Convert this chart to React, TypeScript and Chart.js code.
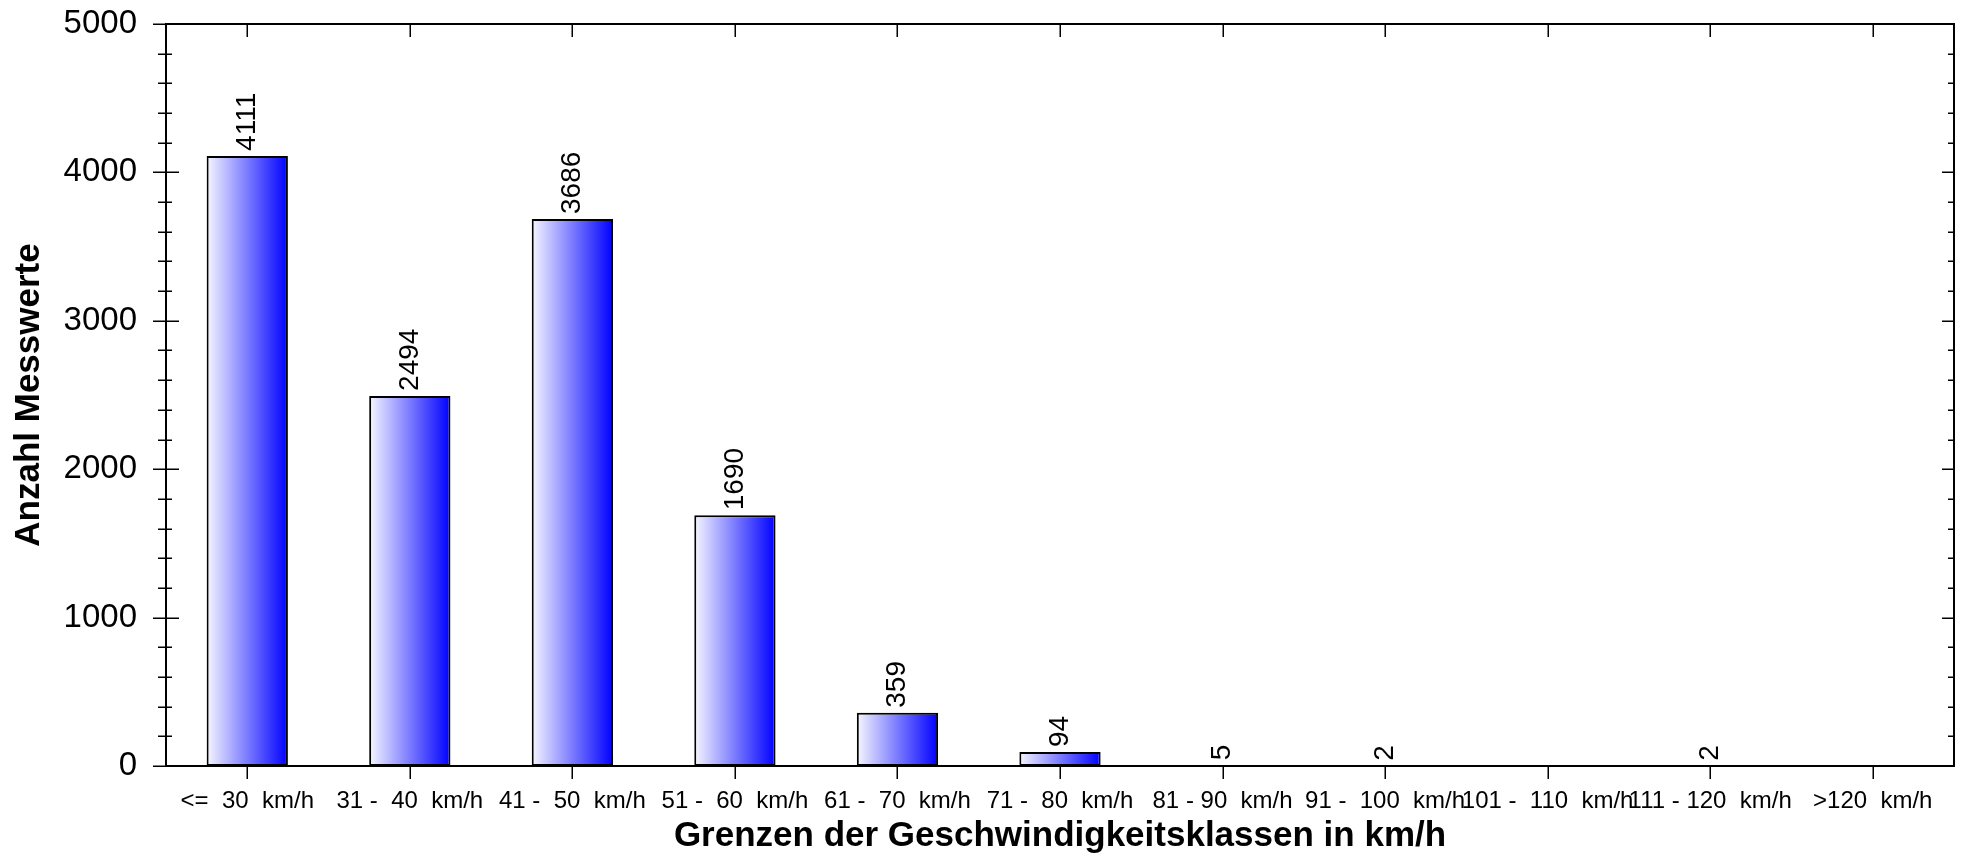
import React, { useEffect, useRef } from 'react';
import { Chart, registerables } from 'chart.js';

Chart.register(...registerables);

const categories = [
  '<=  30  km/h',
  '31 -  40  km/h',
  '41 -  50  km/h',
  '51 -  60  km/h',
  '61 -  70  km/h',
  '71 -  80  km/h',
  '81 - 90  km/h',
  '91 -  100  km/h',
  '101 -  110  km/h',
  '111 - 120  km/h',
  '>120  km/h',
];
const counts = [4111, 2494, 3686, 1690, 359, 94, 5, 2, 0, 2, 0];

const yMin = 0;
const yMax = 5000;
const yMajorStep = 1000;
const yMinorStep = 200;

const xTitle = 'Grenzen der Geschwindigkeitsklassen in km/h';
const yTitle = 'Anzahl Messwerte';

const FONT = '"Liberation Sans", Arial, sans-serif';

const framePlugin = {
  id: 'frame',
  afterDatasetsDraw(chart: any) {
    const { ctx, chartArea: a, scales } = chart;
    const x = scales.x;
    const y = scales.y;
    ctx.save();
    ctx.strokeStyle = '#000';
    ctx.lineCap = 'butt';
    ctx.lineWidth = 2;
    ctx.strokeRect(a.left, a.top, a.right - a.left, a.bottom - a.top);
    ctx.lineWidth = 1.5;
    ctx.beginPath();
    for (let v = yMin; v <= yMax; v += yMinorStep) {
      const py = Math.round(y.getPixelForValue(v)) + 0.25;
      const major = v % yMajorStep === 0;
      ctx.moveTo(a.left - (major ? 13 : 8), py);
      ctx.lineTo(a.left + (major ? 13 : 6), py);
      ctx.moveTo(a.right - (major ? 12 : 6), py);
      ctx.lineTo(a.right, py);
    }
    for (let i = 0; i < categories.length; i++) {
      const px = Math.round(x.getPixelForValue(i)) + 0.25;
      ctx.moveTo(px, a.top);
      ctx.lineTo(px, a.top + 13);
      ctx.moveTo(px, a.bottom);
      ctx.lineTo(px, a.bottom + 13);
    }
    ctx.stroke();
    ctx.restore();
  },
};

const valueLabelPlugin = {
  id: 'valueLabels',
  afterDatasetsDraw(chart: any) {
    const { ctx } = chart;
    const meta = chart.getDatasetMeta(0);
    ctx.save();
    ctx.fillStyle = '#000';
    ctx.font = `28px ${FONT}`;
    ctx.textAlign = 'left';
    ctx.textBaseline = 'middle';
    meta.data.forEach((el: any, i: number) => {
      const v = counts[i];
      if (!v) return;
      ctx.save();
      ctx.translate(el.x, el.y - 5);
      ctx.rotate(-Math.PI / 2);
      ctx.fillText(String(v), 0, 0);
      ctx.restore();
    });
    ctx.restore();
  },
};

export default function App() {
  const canvasRef = useRef<HTMLCanvasElement | null>(null);

  useEffect(() => {
    const canvas = canvasRef.current;
    if (!canvas) return;
    const chart = new Chart(canvas, {
      type: 'bar',
      data: {
        labels: categories,
        datasets: [
          {
            data: counts,
            backgroundColor: (c: any) => {
              const ch = c.chart;
              const xs = ch.scales && ch.scales.x;
              if (!xs || c.dataIndex === undefined) return '#0000ff';
              const cx = xs.getPixelForValue(c.dataIndex);
              const half = (xs.width / categories.length) * 0.25;
              if (!isFinite(cx) || !isFinite(half) || half <= 0) return '#0000ff';
              const g = ch.ctx.createLinearGradient(cx - half, 0, cx + half, 0);
              g.addColorStop(0, '#f6f6ff');
              g.addColorStop(1, '#0000ff');
              return g;
            },
            borderColor: '#000',
            borderWidth: 2,
            borderSkipped: false,
            categoryPercentage: 1,
            barPercentage: 0.5,
          },
        ],
      },
      options: {
        animation: false,
        responsive: true,
        maintainAspectRatio: false,
        layout: { padding: { top: 24, right: 8, left: 0, bottom: 0 } },
        plugins: {
          legend: { display: false },
          tooltip: { enabled: false },
        },
        scales: {
          x: {
            type: 'category',
            grid: { display: false, drawTicks: false },
            border: { display: false },
            ticks: {
              autoSkip: false,
              maxRotation: 0,
              minRotation: 0,
              padding: 21,
              color: '#000',
              font: { family: FONT, size: 24, lineHeight: 1.2 },
            },
            title: {
              display: true,
              text: xTitle,
              color: '#000',
              font: { family: FONT, size: 35, weight: 'bold', lineHeight: 1 },
              padding: { top: 0, bottom: 5 },
            },
            afterFit: (s: any) => {
              s.height = 93;
              s.paddingLeft = 0;
              s.paddingRight = 0;
            },
          },
          y: {
            min: yMin,
            max: yMax,
            grid: { display: false, drawTicks: false },
            border: { display: false },
            ticks: {
              stepSize: yMajorStep,
              padding: 29,
              color: '#000',
              font: { family: FONT, size: 33, lineHeight: 1.2 },
              callback: (v: any) => String(v),
            },
            title: {
              display: true,
              text: yTitle,
              color: '#000',
              font: { family: FONT, size: 35, weight: 'bold', lineHeight: 1 },
              padding: { top: 12, bottom: 0 },
            },
            afterFit: (s: any) => {
              s.width = 166;
              s.paddingTop = 0;
              s.paddingBottom = 0;
            },
          },
        },
      } as any,
      plugins: [framePlugin, valueLabelPlugin],
    });
    return () => chart.destroy();
  }, []);

  return (
    <div style={{ position: 'absolute', left: 0, top: 0, width: 1962, height: 859, background: '#fff' }}>
      <canvas ref={canvasRef} />
    </div>
  );
}
